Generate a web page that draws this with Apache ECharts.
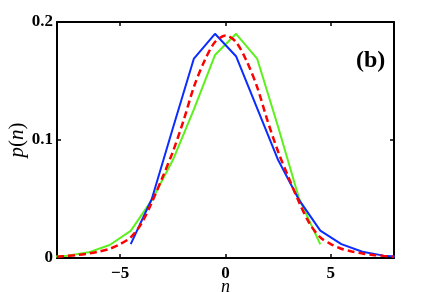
<!DOCTYPE html>
<html><head><meta charset="utf-8">
<script src="https://cdn.jsdelivr.net/npm/echarts@6/dist/echarts.min.js"></script>
<style>html,body{margin:0;padding:0;background:#fff}#c{width:436px;height:292px}</style>
</head><body><div id="c"></div>
<script>
// ---- data ----
var blueN = [-4.5,-3.5,-2.5,-1.5,-0.5,0.5,1.5,2.5,3.5,4.5,5.5,6.5,7.5,8.5];
var blueP = [0.0118,0.0500,0.110,0.169,0.190,0.171,0.127,0.083,0.049,0.0232,0.0118,0.0053,0.0020,0.0006];
var greenN = [-8.5,-7.5,-6.5,-5.5,-4.5,-3.5,-2.5,-1.5,-0.5,0.5,1.5,2.5,3.5,4.5];
var greenP = [0.0006,0.0020,0.0048,0.0110,0.0230,0.049,0.083,0.126,0.172,0.190,0.169,0.111,0.0500,0.0116];
var redN = [-8,-7.5,-7,-6.5,-6,-5.5,-5,-4.5,-4,-3.5,-3,-2.5,-2,-1.5,-1,-0.5,0,0.5,1,1.5,2,2.5,3,3.5,4,4.5,5,5.5,6,6.5,7,7.5,8];
var redP = [0.0011,0.0018,0.0026,0.0038,0.0055,0.0078,0.0118,0.0175,0.029,0.047,0.068,0.090,0.116,0.145,0.167,0.183,0.1886,0.183,0.167,0.145,0.116,0.090,0.068,0.047,0.029,0.0175,0.0118,0.0078,0.0055,0.0038,0.0026,0.0018,0.0011];
var xTicks = [-5, 0, 5];
var yTicks = [0, 0.1, 0.2];
var panelLabel = '(b)';

function pairs(a, b){ return a.map(function(v,i){ return [v, b[i]]; }); }

var serif = 'Liberation Serif';
var chart = echarts.init(document.getElementById('c'), null, {renderer:'canvas'});
var axisLine = {show:true, onZero:false, lineStyle:{color:'#000', width:2}};
chart.setOption({
  animation:false,
  title:{text:panelLabel, left:351, top:44, textStyle:{fontFamily:serif, fontWeight:'bold', fontSize:24, color:'#000'}},
  grid:{left:57, right:42, top:22, bottom:34, containLabel:false, outerBoundsMode:'none'},
  xAxis:[{
    type:'value', min:-8, max:8, position:'bottom',
    axisLine:axisLine,
    axisTick:{show:true, inside:true, length:4, customValues:xTicks, lineStyle:{color:'#000', width:1.5}},
    axisLabel:{customValues:xTicks, margin:7, fontFamily:serif, fontWeight:'bold', fontSize:17, color:'#000',
      formatter:function(v){ return String(v).replace('-', '\u2212'); }},
    splitLine:{show:false},
    name:'n', nameLocation:'middle', nameGap:20, nameMoveOverlap:false,
    nameTextStyle:{fontFamily:serif, fontStyle:'italic', fontSize:18, color:'#000'}
  },{
    type:'value', min:-8, max:8, position:'top',
    axisLine:axisLine,
    axisTick:{show:true, inside:true, length:4, customValues:xTicks, lineStyle:{color:'#000', width:1.5}},
    axisLabel:{show:false}, splitLine:{show:false}
  }],
  yAxis:[{
    type:'value', min:0, max:0.2, interval:0.1, position:'left',
    axisLine:axisLine,
    axisTick:{show:true, inside:true, length:4, lineStyle:{color:'#000', width:1.5}},
    axisLabel:{margin:4, fontFamily:serif, fontWeight:'bold', fontSize:17, color:'#000',
      formatter:function(v){ return String(Math.round(v*10)/10); }},
    splitLine:{show:false},
    name:'{i|p}({i|n})', nameLocation:'middle', nameGap:29, nameMoveOverlap:false,
    nameTextStyle:{fontFamily:serif, fontSize:21, color:'#000',
      rich:{i:{fontFamily:serif, fontStyle:'italic', fontSize:21, color:'#000'}}}
  },{
    type:'value', min:0, max:0.2, interval:0.1, position:'right',
    axisLine:axisLine,
    axisTick:{show:true, inside:true, length:4, lineStyle:{color:'#000', width:1.5}},
    axisLabel:{show:false}, splitLine:{show:false}
  }],
  series:[
    {type:'line', name:'blue', data:pairs(blueN, blueP), showSymbol:false, clip:true,
      lineStyle:{color:'#0a2cff', width:2}, z:3},
    {type:'line', name:'green', data:pairs(greenN, greenP), showSymbol:false, clip:true,
      lineStyle:{color:'#5cf01c', width:2}, z:2},
    {type:'line', name:'red', data:pairs(redN, redP), showSymbol:false, clip:true, smooth:0.3,
      lineStyle:{color:'#ff0000', width:2.5, type:[7,4]}, z:4}
  ]
});
</script></body></html>
